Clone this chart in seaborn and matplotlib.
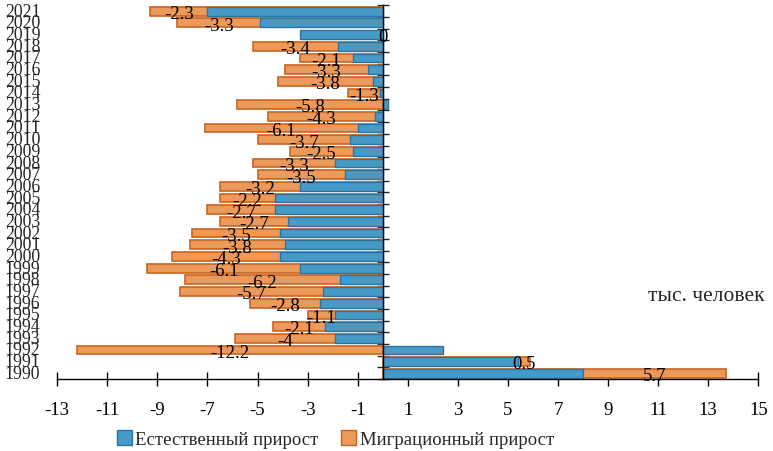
import numpy as np
import pandas as pd
import matplotlib
matplotlib.use("Agg")
import matplotlib.pyplot as plt
import seaborn as sns
from matplotlib.patches import Patch

# Data (thousand people)
years = list(range(1990, 2022))
natural = [8.0, 5.4, 2.4, -1.9, -2.3, -1.9, -2.5, -2.4, -1.7, -3.3,
           -4.1, -3.9, -4.1, -3.8, -4.3, -4.3, -3.3, -1.5, -1.9, -1.2,
           -1.3, -1.0, -0.3, 0.2, -0.1, -0.4, -0.6, -1.2, -1.8, -3.3,
           -4.9, -7.0]
migration = [5.7, 0.5, -12.2, -4, -2.1, -1.1, -2.8, -5.7, -6.2, -6.1,
             -4.3, -3.8, -3.5, -2.7, -2.7, -2.2, -3.2, -3.5, -3.3, -2.5,
             -3.7, -6.1, -4.3, -5.8, -1.3, -3.8, -3.3, -2.1, -3.4, 0,
             -3.3, -2.3]
x_ticks = list(range(-13, 16, 2))
series_names = ["Естественный прирост", "Миграционный прирост"]

df = pd.DataFrame({"year": [str(y) for y in years],
                   "natural": natural, "migration": migration})
# stacked end of the migration segment (starts at 0 when signs differ)
same_sign = np.sign(df["natural"]) == np.sign(df["migration"])
df["start"] = np.where(same_sign, df["natural"], 0.0)
df["end"] = df["start"] + df["migration"]
order = [str(y) for y in years[::-1]]

sns.set_style("white")
plt.rcParams["font.family"] = ["Liberation Serif", "DejaVu Serif"]
plt.rcParams["axes.unicode_minus"] = False

blue, orange = "#469ac8", "#eb9a5c"
fs = 13.5

fig = plt.figure(figsize=(7.73, 4.52), dpi=100)
ax = fig.add_axes([0.074, 0.159, 0.907, 0.827])

sns.barplot(data=df, x="end", y="year", order=order, orient="h", color=orange,
            width=0.75, edgecolor="#c8641e", linewidth=1.2, saturation=1, ax=ax)
sns.barplot(data=df, x="natural", y="year", order=order, orient="h", color=blue,
            width=0.75, edgecolor="#2f7399", linewidth=1.0, saturation=1, ax=ax)

# value labels for migration
for _, r in df.iterrows():
    yi = order.index(r["year"])
    xc = r["start"] + r["migration"] / 2 if r["migration"] != 0 else 0
    ax.text(xc, yi + 0.2, f"{r['migration']:g}", ha="center", va="center",
            fontsize=fs, color="black")

ax.set_xlim(-13, 15)
ax.set_ylim(len(order) - 0.5, -0.5)
ax.set_xticks(x_ticks)
ax.set_xticklabels([str(t) for t in x_ticks], fontsize=fs)
ax.set_yticks(np.arange(-0.5, len(order), 1))
ax.set_yticklabels([])
ytrans = ax.get_yaxis_transform()
for i, lab in enumerate(order):
    ax.text(-0.024, i, lab, transform=ytrans, ha="right", va="center",
            fontsize=12.8, clip_on=False)

ax.spines["left"].set_position(("data", 0))
ax.spines["top"].set_visible(False)
ax.spines["right"].set_visible(False)
for s in ["left", "bottom"]:
    ax.spines[s].set_color("black")
    ax.spines[s].set_linewidth(1.0)
ax.tick_params(axis="x", direction="inout", length=10, width=1, pad=11,
               bottom=True, colors="black")
ax.tick_params(axis="y", direction="inout", length=8, width=1, left=True)
ax.set_xlabel("")
ax.set_ylabel("")

ax.text(0.843, 0.225, "тыс. человек", transform=ax.transAxes, fontsize=15.5,
        ha="left", va="center")

handles = [Patch(facecolor=blue, edgecolor="#2f7399"),
           Patch(facecolor=orange, edgecolor="#c8641e")]
fig.legend(handles, series_names, loc="center", bbox_to_anchor=(0.434, 0.026),
           ncol=2, frameon=False, fontsize=fs, handlelength=0.8,
           handleheight=0.8, handletextpad=0.2, columnspacing=1.2)

fig.savefig("out.png", dpi=100)
